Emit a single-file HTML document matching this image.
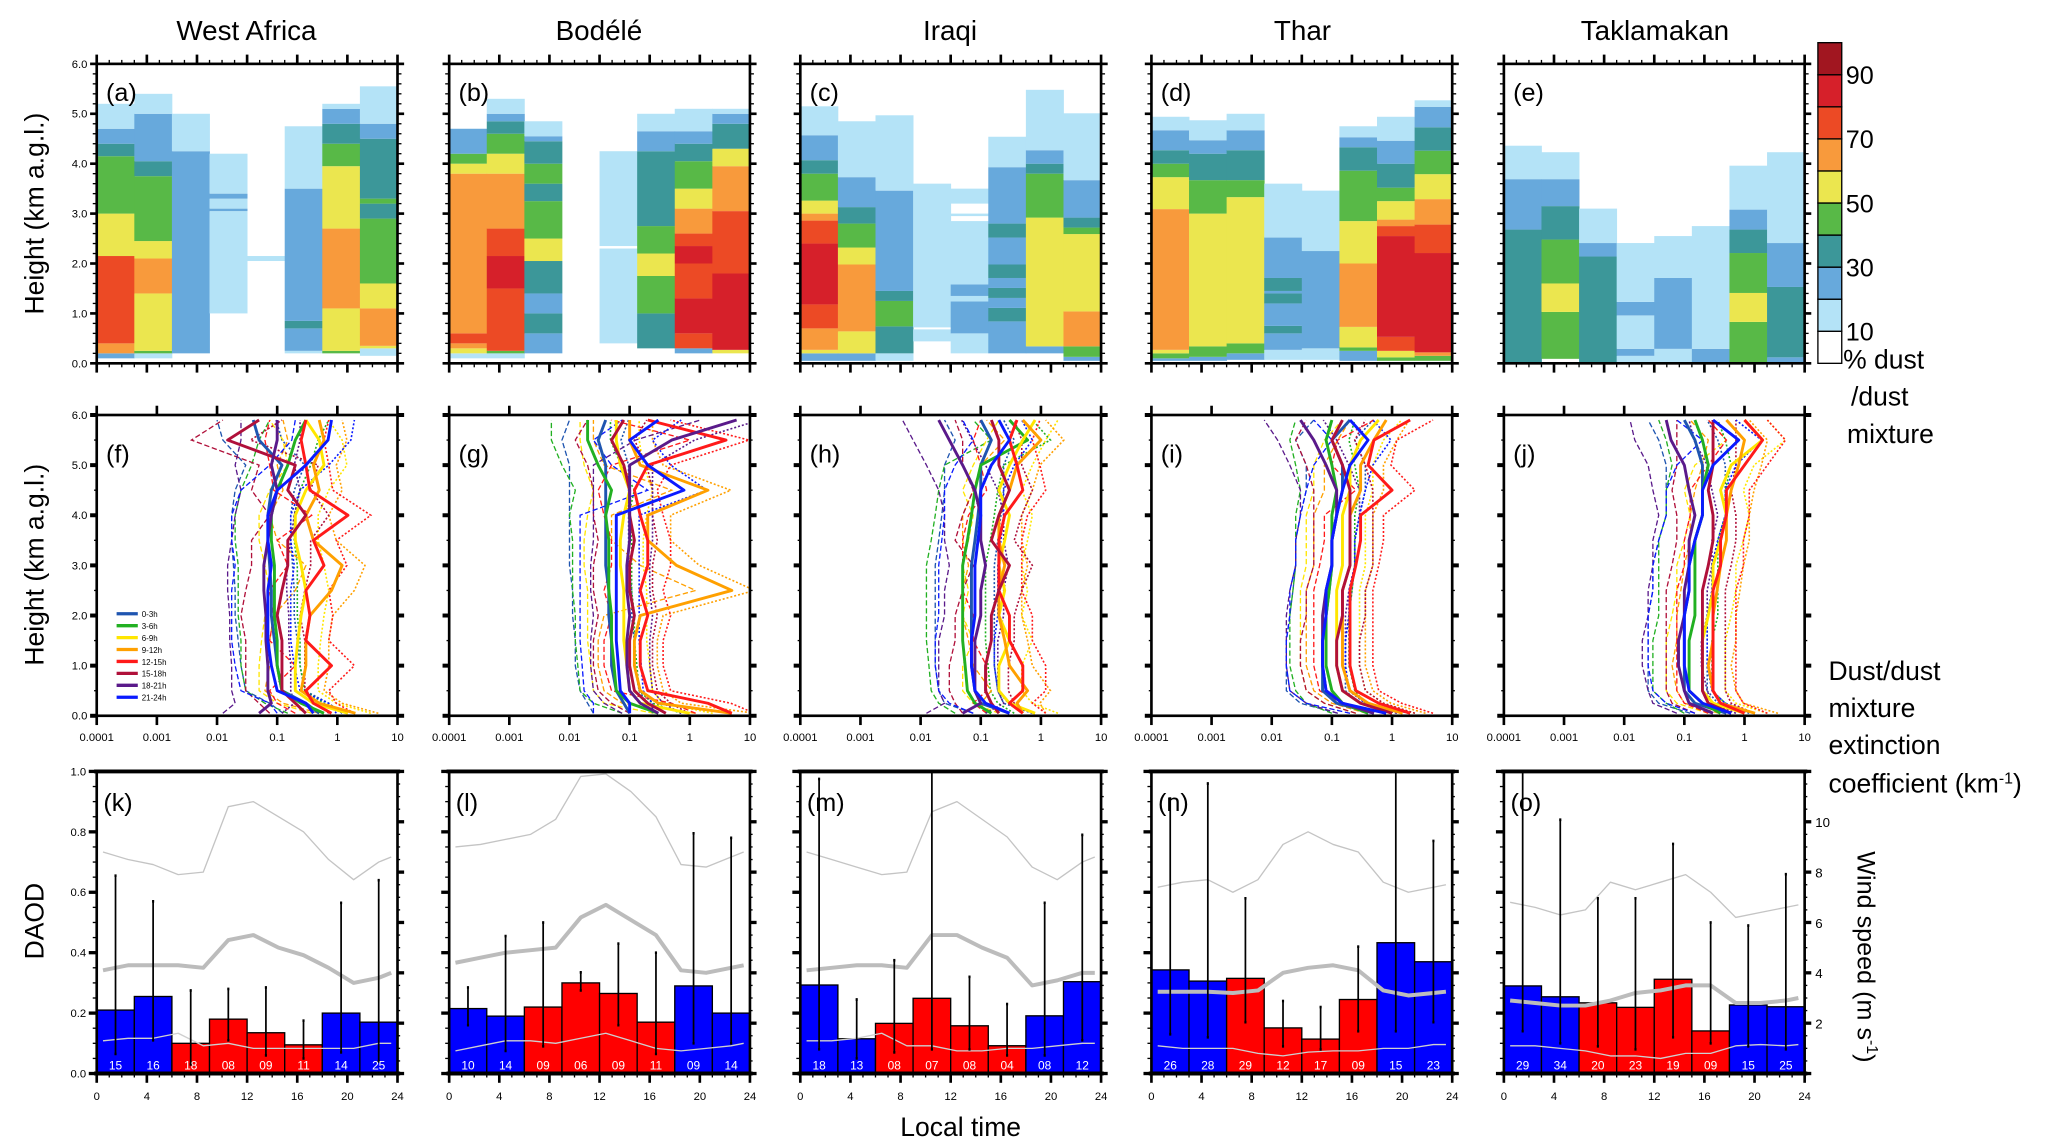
<!DOCTYPE html>
<html><head><meta charset="utf-8"><style>
html,body{margin:0;padding:0;background:#fff;}
svg{display:block;font-family:"Liberation Sans",Arial,sans-serif;}
</style></head><body>
<svg id="fig" xmlns="http://www.w3.org/2000/svg" width="2067" height="1148" viewBox="0 0 1560 866">
<rect x="0" y="0" width="1560" height="866" fill="#fff"/>
<g font-size="21" text-anchor="middle">
<text x="186" y="30">West Africa</text>
<text x="452" y="30">Bodélé</text>
<text x="717" y="30">Iraqi</text>
<text x="983" y="30">Thar</text>
<text x="1249" y="30">Taklamakan</text>
</g>
<text font-size="20" text-anchor="middle" transform="translate(33,161) rotate(-90)">Height (km a.g.l.)</text>
<text font-size="20" text-anchor="middle" transform="translate(33,426) rotate(-90)">Height (km a.g.l.)</text>
<text font-size="20" text-anchor="middle" transform="translate(33,695) rotate(-90)">DAOD</text>
<text font-size="20" text-anchor="middle" x="725" y="857">Local time</text>
<text font-size="19" text-anchor="middle" transform="translate(1402,722) rotate(90)">Wind speed (m s<tspan font-size="12" dy="-7">-1</tspan><tspan dy="7">)</tspan></text>
<g font-size="20">
<text x="1391" y="278">% dust</text><text x="1397" y="306">/dust</text><text x="1394" y="334">mixture</text>
</g>
<g font-size="20">
<text x="1380" y="513">Dust/dust</text><text x="1380" y="541">mixture</text><text x="1380" y="569">extinction</text>
<text x="1380" y="598">coefficient (km<tspan font-size="12" dy="-7">-1</tspan><tspan dy="7">)</tspan></text>
</g>
<g id="layer"></g>
</svg>
<script>
const classColors=['#ffffff','#b4e3f7','#67a9dc','#3c9799','#58b947','#ebe64f','#f89a3c','#ec4a25','#d6202a','#a11620'];
const cbLabels=['90','70','50','30','10'];
const pctA=[
 [[0.1,0.2,2],[0.2,0.4,6],[0.4,2.15,7],[2.15,3.0,5],[3.0,4.15,4],[4.15,4.4,3],[4.4,4.7,2],[4.7,5.2,1]],
 [[0.1,0.2,1],[0.2,0.25,4],[0.25,1.4,5],[1.4,2.1,6],[2.1,2.45,5],[2.45,3.75,4],[3.75,4.05,3],[4.05,5.0,2],[5.0,5.4,1]],
 [[0.2,4.25,2],[4.25,5.0,1]],
 [[1.0,3.05,1],[3.05,3.1,2],[3.1,3.3,1],[3.3,3.4,2],[3.4,4.2,1]],
 [[2.05,2.15,1]],
 [[0.2,0.25,1],[0.25,0.7,2],[0.7,0.85,3],[0.85,3.5,2],[3.5,4.75,1]],
 [[0.2,0.25,4],[0.25,1.1,5],[1.1,2.7,6],[2.7,3.95,5],[3.95,4.4,4],[4.4,4.8,3],[4.8,5.1,2],[5.1,5.2,1]],
 [[0.15,0.3,1],[0.3,0.35,5],[0.35,1.1,6],[1.1,1.6,5],[1.6,2.9,4],[2.9,3.2,3],[3.2,3.3,4],[3.3,4.5,3],[4.5,4.8,2],[4.8,5.55,1]]];
const pctB=[
 [[0.1,0.2,1],[0.2,0.3,5],[0.3,0.4,6],[0.4,0.6,7],[0.6,3.8,6],[3.8,4.0,5],[4.0,4.2,4],[4.2,4.7,2]],
 [[0.1,0.2,1],[0.2,0.25,4],[0.25,1.5,7],[1.5,2.15,8],[2.15,2.7,7],[2.7,3.8,6],[3.8,4.2,5],[4.2,4.6,4],[4.6,4.85,3],[4.85,5.0,2],[5.0,5.3,1]],
 [[0.2,0.6,2],[0.6,1.0,3],[1.0,1.4,2],[1.4,2.05,3],[2.05,2.5,5],[2.5,3.25,4],[3.25,3.6,3],[3.6,4.0,4],[4.0,4.45,3],[4.45,4.55,2],[4.55,4.85,1]],
 [],
 [[0.4,2.3,1],[2.35,4.25,1]],
 [[0.3,1.0,3],[1.0,1.75,4],[1.75,2.2,5],[2.2,2.75,4],[2.75,4.25,3],[4.25,4.65,2],[4.65,5.0,1]],
 [[0.2,0.3,2],[0.3,0.6,7],[0.6,1.3,8],[1.3,2.0,7],[2.0,2.35,8],[2.35,2.6,7],[2.6,3.1,6],[3.1,3.5,5],[3.5,4.05,4],[4.05,4.4,3],[4.4,4.65,2],[4.65,5.1,1]],
 [[0.2,0.27,5],[0.27,1.8,8],[1.8,3.05,7],[3.05,3.95,6],[3.95,4.3,5],[4.3,4.8,3],[4.8,5.0,2],[5.0,5.1,1]]];
const pctC=[
 [[0.05,0.2,2],[0.2,0.27,5],[0.27,0.7,6],[0.7,1.18,7],[1.18,2.4,8],[2.4,2.86,7],[2.86,3.0,6],[3.0,3.26,5],[3.26,3.8,4],[3.8,4.07,3],[4.07,4.57,2],[4.57,5.15,1]],
 [[0.05,0.2,2],[0.2,0.64,5],[0.64,1.98,6],[1.98,2.32,5],[2.32,2.8,4],[2.8,3.13,3],[3.13,3.73,2],[3.73,4.85,1]],
 [[0.05,0.2,1],[0.2,0.74,3],[0.74,1.25,4],[1.25,1.45,3],[1.45,3.46,2],[3.46,4.97,1]],
 [[0.44,0.68,1],[0.72,3.6,1]],
 [[0.2,0.6,1],[0.6,1.24,2],[1.24,1.35,1],[1.35,1.58,2],[1.58,2.85,1],[2.95,3.0,1],[3.2,3.5,1]],
 [[0.2,0.84,2],[0.84,1.11,3],[1.11,1.31,2],[1.31,1.51,3],[1.51,1.71,2],[1.71,1.98,3],[1.98,2.52,2],[2.52,2.8,3],[2.8,3.93,2],[3.93,4.54,1]],
 [[0.2,0.34,2],[0.34,2.92,5],[2.92,3.8,4],[3.8,4.0,3],[4.0,4.27,2],[4.27,5.48,1]],
 [[0.05,0.13,2],[0.13,0.34,4],[0.34,1.04,6],[1.04,2.59,5],[2.59,2.72,4],[2.72,2.92,3],[2.92,3.67,2],[3.67,5.01,1]]];
const pctD=[
 [[0.05,0.1,2],[0.1,0.2,4],[0.2,0.27,5],[0.27,3.09,6],[3.09,3.73,5],[3.73,4.0,4],[4.0,4.27,3],[4.27,4.67,2],[4.67,4.94,1]],
 [[0.05,0.13,2],[0.13,0.34,4],[0.34,3.0,5],[3.0,3.67,4],[3.67,4.2,3],[4.2,4.47,2],[4.47,4.87,1]],
 [[0.07,0.2,2],[0.2,0.4,4],[0.4,3.33,5],[3.33,3.67,4],[3.67,4.27,3],[4.27,4.67,2],[4.67,5.0,1]],
 [[0.07,0.27,1],[0.27,0.6,2],[0.6,0.75,3],[0.75,1.2,2],[1.2,1.4,3],[1.4,1.45,2],[1.45,1.71,3],[1.71,2.52,2],[2.52,3.6,1]],
 [[0.07,0.3,1],[0.3,2.25,2],[2.25,3.46,1]],
 [[0.05,0.25,2],[0.25,0.32,4],[0.32,0.73,5],[0.73,2.0,6],[2.0,2.85,5],[2.85,3.86,4],[3.86,4.33,3],[4.33,4.53,2],[4.53,4.75,1]],
 [[0.05,0.12,4],[0.12,0.25,5],[0.25,0.53,7],[0.53,2.55,8],[2.55,2.75,7],[2.75,2.88,6],[2.88,3.25,5],[3.25,3.52,4],[3.52,4.0,3],[4.0,4.46,2],[4.46,4.94,1]],
 [[0.05,0.15,4],[0.15,0.22,6],[0.22,2.21,8],[2.21,2.78,7],[2.78,3.29,6],[3.29,3.79,5],[3.79,4.26,4],[4.26,4.73,3],[4.73,5.14,2],[5.14,5.27,1]]];
const pctE=[
 [[0,2.68,3],[2.68,3.69,2],[3.69,4.36,1]],
 [[0.09,1.03,4],[1.03,1.6,5],[1.6,2.48,4],[2.48,3.15,3],[3.15,3.69,2],[3.69,4.23,1]],
 [[0,2.14,3],[2.14,2.41,2],[2.41,3.1,1]],
 [[0,0.15,1],[0.15,0.29,2],[0.29,0.96,1],[0.96,1.23,2],[1.23,2.41,1]],
 [[0,0.29,1],[0.29,1.71,2],[1.71,2.55,1]],
 [[0,0.29,2],[0.29,2.75,1]],
 [[0,0.83,4],[0.83,1.41,5],[1.41,2.21,4],[2.21,2.68,3],[2.68,3.08,2],[3.08,3.96,1]],
 [[0,0.12,2],[0.12,1.53,3],[1.53,2.41,2],[2.41,4.23,1]]];
const pctPanels=[pctA,pctB,pctC,pctD,pctE];
const heights=[0.05,0.25,0.5,1,1.5,2,2.5,3,3.5,4,4.5,5,5.5,5.9];
const seriesNames=['0-3h','3-6h','6-9h','9-12h','12-15h','15-18h','18-21h','21-24h'];
const seriesColors=['#1f55b0','#22b022','#ffe600','#ffa000','#ff1a1a','#b0103a','#5a1a8a','#0a1aff'];
const extF=[
 [0.5,0.3,0.12,0.1,0.09,0.08,0.08,0.075,0.07,0.07,0.08,0.12,0.05,0.04],
 [0.6,0.25,0.12,0.1,0.1,0.09,0.09,0.09,0.08,0.08,0.1,0.15,0.2,0.3],
 [1.5,0.4,0.2,0.2,0.22,0.25,0.3,0.25,0.2,0.2,0.3,0.6,0.5,0.3],
 [2,0.5,0.25,0.3,0.3,0.35,0.8,1.2,0.4,0.3,0.5,0.4,0.6,0.5],
 [0.8,0.4,0.3,0.8,0.3,0.35,0.3,0.6,0.4,1.5,0.35,0.3,0.25,0.3],
 [0.3,0.2,0.12,0.12,0.12,0.1,0.12,0.15,0.15,0.3,0.15,0.2,0.015,0.05],
 [0.05,0.08,0.07,0.07,0.065,0.065,0.06,0.06,0.07,0.08,0.1,0.08,0.1,0.1],
 [0.4,0.3,0.1,0.08,0.07,0.07,0.07,0.08,0.07,0.07,0.1,0.3,0.7,0.8]];
const extG=[
 [0.1,0.08,0.06,0.05,0.05,0.045,0.045,0.04,0.04,0.04,0.04,0.04,0.03,0.04],
 [0.3,0.1,0.06,0.055,0.05,0.05,0.045,0.045,0.045,0.04,0.05,0.03,0.02,0.02],
 [1,0.15,0.1,0.09,0.08,0.08,0.08,0.07,0.07,0.08,0.1,0.07,0.06,0.06],
 [5,0.3,0.15,0.12,0.12,0.15,5,0.6,0.2,0.2,2,0.15,0.1,0.1],
 [5,2,0.2,0.15,0.15,0.2,0.15,0.2,0.2,0.15,0.12,0.2,4,0.2],
 [0.4,0.2,0.12,0.1,0.1,0.12,0.1,0.1,0.12,0.1,0.1,0.08,0.05,0.08],
 [0.3,0.15,0.1,0.09,0.09,0.1,0.09,0.09,0.1,0.1,0.1,0.1,0.5,6],
 [0.1,0.1,0.07,0.065,0.06,0.06,0.06,0.06,0.06,0.06,0.8,0.2,0.1,0.3]];
const extH=[
 [0.3,0.1,0.08,0.07,0.07,0.07,0.07,0.07,0.08,0.09,0.1,0.1,0.15,0.1],
 [0.15,0.08,0.06,0.055,0.05,0.05,0.05,0.05,0.06,0.07,0.08,0.1,0.6,0.3],
 [0.8,0.3,0.2,0.2,0.3,0.2,0.25,0.2,0.25,0.3,0.2,0.3,0.5,0.8],
 [0.5,0.4,0.6,0.3,0.25,0.2,0.2,0.25,0.2,0.2,0.3,0.4,1,0.5],
 [0.5,0.3,0.5,0.5,0.3,0.3,0.2,0.2,0.2,0.25,0.5,0.4,0.3,0.4],
 [0.2,0.15,0.12,0.12,0.15,0.15,0.2,0.3,0.15,0.2,0.3,0.2,0.2,0.15],
 [0.05,0.1,0.08,0.08,0.08,0.1,0.1,0.12,0.1,0.1,0.08,0.05,0.03,0.02],
 [0.3,0.12,0.08,0.07,0.07,0.08,0.08,0.08,0.09,0.1,0.1,0.15,0.3,0.2]];
const extI=[
 [0.5,0.12,0.07,0.07,0.07,0.08,0.09,0.1,0.1,0.12,0.15,0.15,0.1,0.2],
 [0.4,0.15,0.1,0.08,0.08,0.08,0.09,0.1,0.1,0.1,0.12,0.1,0.08,0.1],
 [1,0.3,0.15,0.12,0.12,0.12,0.12,0.15,0.15,0.15,0.2,0.2,0.3,0.6],
 [1.5,0.4,0.2,0.15,0.15,0.15,0.15,0.2,0.2,0.2,0.3,0.3,0.5,0.8],
 [2,0.6,0.25,0.2,0.2,0.2,0.2,0.25,0.3,0.3,1,0.4,0.5,2],
 [1,0.3,0.15,0.12,0.12,0.15,0.15,0.2,0.2,0.2,0.2,0.15,0.1,0.15],
 [0.5,0.15,0.08,0.07,0.07,0.07,0.08,0.1,0.1,0.12,0.12,0.08,0.05,0.03],
 [0.8,0.15,0.08,0.07,0.07,0.08,0.08,0.1,0.1,0.12,0.15,0.2,0.4,0.2]];
const extJ=[
 [0.5,0.15,0.1,0.1,0.1,0.1,0.12,0.12,0.15,0.2,0.2,0.2,0.15,0.1],
 [0.4,0.2,0.12,0.12,0.12,0.15,0.15,0.15,0.15,0.2,0.2,0.25,0.2,0.15],
 [1,0.3,0.2,0.2,0.2,0.25,0.3,0.3,0.4,0.5,0.4,0.6,2,1],
 [1.5,0.4,0.3,0.25,0.3,0.3,0.35,0.4,0.5,0.5,0.6,0.8,1,0.5],
 [1,0.4,0.3,0.3,0.3,0.3,0.3,0.4,0.4,0.5,0.5,1,2,1],
 [0.6,0.25,0.2,0.2,0.2,0.2,0.2,0.25,0.3,0.3,0.25,0.3,0.3,0.3],
 [0.3,0.12,0.1,0.08,0.08,0.1,0.1,0.12,0.12,0.15,0.12,0.1,0.06,0.05],
 [0.6,0.2,0.12,0.1,0.1,0.1,0.12,0.12,0.15,0.2,0.2,0.3,0.8,0.3]];
const extPanels=[extF,extG,extH,extI,extJ];
const logTicks=['0.0001','0.001','0.01','0.1','1','10'];
const daodK=[0.21,0.255,0.10,0.18,0.135,0.095,0.20,0.17];
const daodL=[0.215,0.19,0.22,0.30,0.265,0.17,0.29,0.20];
const daodM=[0.293,0.115,0.166,0.249,0.158,0.092,0.191,0.304];
const daodN=[0.343,0.306,0.315,0.151,0.114,0.245,0.433,0.37];
const daodO=[0.29,0.254,0.234,0.219,0.312,0.141,0.227,0.221];
const errLoK=[0.065,0.11,0.03,0.11,0.06,0.05,0.07,0.04];
const errHiK=[0.655,0.57,0.275,0.28,0.285,0.175,0.565,0.64];
const errLoL=[0.16,0.075,0.09,0.275,0.16,0.065,0.10,0.10];
const errHiL=[0.285,0.455,0.50,0.335,0.43,0.40,0.795,0.78];
const errLoM=[0.08,0.05,0.07,0.08,0.08,0.06,0.06,0.11];
const errHiM=[0.975,0.245,0.375,1.0,0.32,0.23,0.565,0.79];
const errLoN=[0.13,0.12,0.17,0.09,0.08,0.14,0.14,0.17];
const errHiN=[0.91,0.96,0.58,0.24,0.22,0.42,1.0,0.77];
const errLoO=[0.14,0.10,0.09,0.08,0.12,0.10,0.09,0.08];
const errHiO=[1.0,0.84,0.58,0.58,0.76,0.50,0.49,0.66];
const countsK=['15','16','18','08','09','11','14','25'];
const countsL=['10','14','09','06','09','11','09','14'];
const countsM=['18','13','08','07','08','04','08','12'];
const countsN=['26','28','29','12','17','09','15','23'];
const countsO=['29','34','20','23','19','09','15','25'];
const barIsNight=[true,true,false,false,false,false,true,true];
const windHours=[0.5,2.5,4.5,6.5,8.5,10.5,12.5,14.5,16.5,18.5,20.5,22.5,23.5];
const windHiK=[8.8,8.5,8.3,7.9,8.0,10.6,10.8,10.2,9.6,8.5,7.7,8.4,8.6];
const windMidK=[4.1,4.3,4.3,4.3,4.2,5.3,5.5,5.0,4.7,4.2,3.6,3.8,4.0];
const windLoK=[1.3,1.4,1.4,1.6,1.1,1.2,1.0,1.0,1.0,1.0,1.0,1.2,1.2];
const windHiL=[9.0,9.1,9.3,9.5,10.1,11.8,11.9,11.2,10.2,8.3,8.2,8.6,8.8];
const windMidL=[4.4,4.6,4.8,4.9,5.0,6.2,6.7,6.1,5.5,4.1,4.0,4.2,4.3];
const windLoL=[0.9,1.1,1.3,1.3,1.2,1.4,1.6,1.3,1.0,0.9,1.0,1.1,1.2];
const windHiM=[8.8,8.5,8.2,7.9,8.0,10.4,10.8,10.1,9.4,8.2,7.7,8.4,8.6];
const windMidM=[4.1,4.2,4.3,4.3,4.2,5.5,5.5,5.0,4.6,3.5,3.7,4.0,4.0];
const windLoM=[1.3,1.3,1.4,1.6,1.1,1.1,0.9,0.9,1.0,1.0,1.1,1.2,1.2];
const windHiN=[7.4,7.6,7.7,7.2,7.7,9.1,9.6,9.1,8.8,7.6,7.2,7.4,7.5];
const windMidN=[3.25,3.25,3.25,3.2,3.3,4.0,4.2,4.3,4.1,3.3,3.1,3.2,3.25];
const windLoN=[1.1,1.0,1.0,1.0,0.8,0.7,0.85,0.9,0.9,1.0,1.0,1.15,1.15];
const windHiO=[6.8,6.6,6.3,6.5,7.6,7.3,7.6,7.9,7.2,6.2,6.4,6.6,6.7];
const windMidO=[2.9,2.8,2.7,2.7,2.9,3.2,3.3,3.5,3.5,2.8,2.8,2.9,3.0];
const windLoO=[1.1,1.1,1.0,0.9,0.7,0.7,0.6,0.8,0.8,1.1,1.15,1.1,1.15];
const daodPanels=[daodK,daodL,daodM,daodN,daodO];
const errLoPanels=[errLoK,errLoL,errLoM,errLoN,errLoO];
const errHiPanels=[errHiK,errHiL,errHiM,errHiN,errHiO];
const countPanels=[countsK,countsL,countsM,countsN,countsO];
const windHiPanels=[windHiK,windHiL,windHiM,windHiN,windHiO];
const windMidPanels=[windMidK,windMidL,windMidM,windMidN,windMidO];
const windLoPanels=[windLoK,windLoL,windLoM,windLoN,windLoO];
const letters=[['(a)','(b)','(c)','(d)','(e)'],['(f)','(g)','(h)','(i)','(j)'],['(k)','(l)','(m)','(n)','(o)']];
const daodTicks=['0.0','0.2','0.4','0.6','0.8','1.0'];
const hTicks=['0.0','1.0','2.0','3.0','4.0','5.0','6.0'];
const hourTicks=['0','4','8','12','16','20','24'];
const windTicks=['2','4','6','8','10'];

const NS='http://www.w3.org/2000/svg';
const layer=document.getElementById('layer');
const PX=[73,339,604,869,1135], PW=227;
const ROW=[{y:48,h:226},{y:313,h:227},{y:582,h:228}];
function el(tag,attrs,parent){const e=document.createElementNS(NS,tag);for(const k in attrs)e.setAttribute(k,attrs[k]);(parent||layer).appendChild(e);return e;}
function txt(s,attrs,parent){const t=el('text',attrs,parent);t.textContent=s;return t;}
function line(x1,y1,x2,y2,w,parent,c){return el('line',{x1,y1,x2,y2,stroke:c||'#000','stroke-width':w},parent);}
const hourX=(p,h)=>PX[p]+PW*h/24;
const kmY=(r,km)=>ROW[r].y+ROW[r].h*(1-km/6);
const logX=(p,v)=>PX[p]+PW*(Math.log10(Math.max(v,1e-4))+4)/5;
const daodY=v=>ROW[2].y+ROW[2].h*(1-v);
const windY=w=>ROW[2].y+ROW[2].h*(1-w/12);
function frame(p,r,g){el('rect',{x:PX[p],y:ROW[r].y,width:PW,height:ROW[r].h,fill:'none',stroke:'#000','stroke-width':2},g);}

for(let p=0;p<5;p++){
  const g=el('g',{});
  
  
  pctPanels[p].forEach((segs,ci)=>{
    segs.forEach(s=>{
      const r=el('rect',{x:hourX(p,ci*3),y:kmY(0,s[1]),width:PW/8+0.3,height:Math.max(0.8,kmY(0,s[0])-kmY(0,s[1])),fill:classColors[s[2]]},g);
      
      
    });
  });
  frame(p,0,g);
  const x0=PX[p],x1=PX[p]+PW;
  for(let i=0;i<=30;i++){const y=kmY(0,i*0.2),L=(i%5==0)?5:3,w=(i%5==0)?2:1;line(x0-L,y,x0,y,w,g);line(x1,y,x1+L,y,w,g);}
  for(let hh=0;hh<=24;hh++){const x=hourX(p,hh),L=(hh%4==0)?7:3,w=(hh%4==0)?2:1;line(x,ROW[0].y+ROW[0].h,x,ROW[0].y+ROW[0].h+L,w,g);line(x,ROW[0].y-L,x,ROW[0].y,w,g);}
  if(p==0) hTicks.forEach((t,i)=>txt(t,{x:x0-7,y:kmY(0,i)+3,'font-size':8.5,'text-anchor':'end'},g));
  txt(letters[0][p],{x:x0+7,y:ROW[0].y+28,'font-size':19},g);
}
{
  const g=el('g',{});
  
  
  const cx=1372,cy=32,bh=24.2;
  for(let i=0;i<10;i++){
    const r=el('rect',{x:cx,y:cy+(9-i)*bh,width:18,height:bh,fill:classColors[i],stroke:'#000','stroke-width':1},g);
    
    
  }
  cbLabels.forEach((t,i)=>txt(t,{x:1393,y:cy+bh*(1+2*i)+7,'font-size':19},g));
}

for(let p=0;p<5;p++){
  const g=el('g',{});
  
  
  const clipId='clipm'+p;
  const cp=el('clipPath',{id:clipId},g);el('rect',{x:PX[p],y:ROW[1].y,width:PW,height:ROW[1].h},cp);
  const pg=el('g',{'clip-path':'url(#'+clipId+')'},g);
  const data=extPanels[p];
  data.forEach((vals,si)=>{
    const lo=vals.map((v,k)=>[logX(p,v*0.25),kmY(1,heights[k])]);
    const hi=vals.map((v,k)=>[logX(p,v*2.4),kmY(1,heights[k])]);
    const d1=el('polyline',{points:lo.map(q=>q.join(',')).join(' '),fill:'none',stroke:seriesColors[si],'stroke-width':1,'stroke-dasharray':'4,2'},pg);
    
    
    const d2=el('polyline',{points:hi.map(q=>q.join(',')).join(' '),fill:'none',stroke:seriesColors[si],'stroke-width':1.2,'stroke-dasharray':'1.5,1.5'},pg);
    
    
  });
  data.forEach((vals,si)=>{
    const pts=vals.map((v,k)=>logX(p,v)+','+kmY(1,heights[k])).join(' ');
    const pl=el('polyline',{points:pts,fill:'none',stroke:seriesColors[si],'stroke-width':2.2,'stroke-linejoin':'round'},pg);
    
    
  });
  frame(p,1,g);
  const x0=PX[p],x1=PX[p]+PW;
  for(let i=0;i<=12;i++){const y=kmY(1,i*0.5),L=(i%2==0)?5:2,w=(i%2==0)?3:1;line(x0-L,y,x0,y,w,g);line(x1,y,x1+L,y,w,g);}
  logTicks.forEach(t=>{const x=logX(p,parseFloat(t));line(x,ROW[1].y+ROW[1].h,x,ROW[1].y+ROW[1].h+7,2,g);line(x,ROW[1].y-7,x,ROW[1].y,2,g);
    txt(t,{x:x,y:ROW[1].y+ROW[1].h+19,'font-size':8.5,'text-anchor':'middle'},g);});
  if(p==0) hTicks.forEach((t,i)=>txt(t,{x:x0-7,y:kmY(1,i)+3,'font-size':8.5,'text-anchor':'end'},g));
  txt(letters[1][p],{x:x0+7,y:ROW[1].y+36,'font-size':19},g);
  if(p==0){
    const lg=el('g',{},g);
    
    
    seriesNames.forEach((n,i)=>{
      const y=463+i*9;
      const e=el('g',{},lg);
      
      
      line(88,y,104,y,2.5,e,seriesColors[i]);
      txt(n,{x:107,y:y+2.5,'font-size':6},e);
    });
  }
}

for(let p=0;p<5;p++){
  const g=el('g',{});
  
  
  const x0=PX[p],x1=PX[p]+PW,yb=ROW[2].y+ROW[2].h;
  const clipId='clipb'+p;
  const cp=el('clipPath',{id:clipId},g);el('rect',{x:x0,y:ROW[2].y,width:PW,height:ROW[2].h},cp);
  const pg=el('g',{'clip-path':'url(#'+clipId+')'},g);
  const bars=daodPanels[p];
  bars.forEach((v,i)=>{
    const b=el('rect',{x:hourX(p,i*3),y:daodY(v),width:PW/8,height:yb-daodY(v),fill:barIsNight[i]?'#0000ff':'#ff0000',stroke:'#000','stroke-width':1},pg);
    
    
  });
  const mk=(arr,c,w,name)=>{const pl=el('polyline',{points:arr.map((v,k)=>hourX(p,windHours[k])+','+windY(v)).join(' '),fill:'none',stroke:c,'stroke-width':w,'stroke-linejoin':'round'},pg);
    
    };
  mk(windHiPanels[p],'#c4c4c4',1,'wind-upper-line');
  mk(windMidPanels[p],'#bcbcbc',3,'wind-mean-line');
  mk(windLoPanels[p],'#cfcfcf',1,'wind-lower-line');
  bars.forEach((v,i)=>{
    const x=hourX(p,i*3+1.5);
    const e=line(x,daodY(errLoPanels[p][i]),x,daodY(errHiPanels[p][i]),1.3,pg);
    
    
    line(x-0.8,daodY(errLoPanels[p][i]),x+0.8,daodY(errLoPanels[p][i]),2,pg);
    line(x-0.8,daodY(errHiPanels[p][i]),x+0.8,daodY(errHiPanels[p][i]),2,pg);
    txt(countPanels[p][i],{x:x,y:yb-3,'font-size':9,fill:'#fff','text-anchor':'middle'},pg);
  });
  frame(p,2,g);
  line(x0-2,ROW[2].y,x1+2,ROW[2].y,3,g);
  line(x0-2,yb,x1+2,yb,3,g);
  for(let i=0;i<=20;i++){const y=daodY(i*0.05),L=(i%4==0)?6:3,w=(i%4==0)?2.5:1;line(x0-L,y,x0,y,w,g);}
  for(let i=0;i<=24;i++){const y=windY(i*0.5),L=(i%4==0)?5:2,w=(i%4==0)?2.5:1;line(x1,y,x1+L,y,w,g);}
  for(let hh=0;hh<=24;hh++){const x=hourX(p,hh),L=(hh%4==0)?7:3,w=(hh%4==0)?2:1;line(x,yb,x,yb+L,w,g);}
  hourTicks.forEach(t=>txt(t,{x:hourX(p,+t),y:yb+20,'font-size':8.5,'text-anchor':'middle'},g));
  if(p==0) daodTicks.forEach((t,i)=>txt(t,{x:x0-8,y:daodY(i*0.2)+3,'font-size':8.5,'text-anchor':'end'},g));
  if(p==4) windTicks.forEach(t=>txt(t,{x:x1+8,y:windY(+t)+4,'font-size':10},g));
  txt(letters[2][p],{x:x0+5,y:ROW[2].y+30,'font-size':19},g);
}
</script>
</body></html>
